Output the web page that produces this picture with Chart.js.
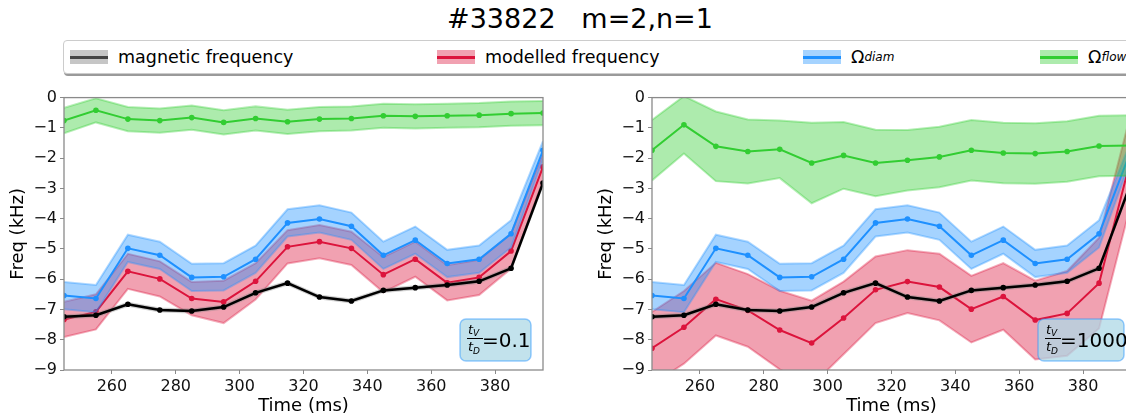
<!DOCTYPE html>
<html>
<head>
<meta charset="utf-8">
<script src="https://cdn.jsdelivr.net/npm/chart.js@4"></script>
<style>
html, body { margin: 0; padding: 0; background: #fff; overflow: hidden; width: 1126px; height: 418px; }
body { position: relative; font-family: "DejaVu Sans", sans-serif; color: #000; }
#title { position: absolute; left: 0; width: 1160px; top: 3px; text-align: center; font-size: 27px; white-space: pre; }
#legend { position: absolute; left: 63px; top: 40px; width: 1100px; height: 32px; border: 1px solid #ccc;
  border-radius: 4px; box-shadow: 1px 2px 0 #9a9a9a; background: #fff; }
.item { position: absolute; top: 0; height: 32px; display: flex; align-items: center; font-size: 17.5px; white-space: nowrap; }
.icon { position: relative; width: 38px; height: 14px; margin-right: 10px; }
.icon .band { position: absolute; left: 0; top: 0; width: 100%; height: 100%; }
.icon .line { position: absolute; left: 0; top: 6px; width: 100%; height: 2.5px; }
.item sub { font-style: italic; font-size: 12px; vertical-align: -6px; line-height: 0; }
canvas { position: absolute; top: 85px; }
</style>
</head>
<body>
<div id="title">#33822   m=2,n=1</div>
<div id="legend"></div>
<canvas id="left" width="560" height="333" style="left:0px"></canvas>
<canvas id="right" width="560" height="333" style="left:588px"></canvas>
<script>
// --- Data ---
const times = [245, 255, 265, 275, 285, 295, 305, 315, 325, 335, 345, 355, 365, 375, 385, 395];
const xTicks = [260, 280, 300, 320, 340, 360, 380];
const yTicks = [0, -1, -2, -3, -4, -5, -6, -7, -8, -9];

const magnetic = [-7.24, -7.19, -6.83, -7.02, -7.05, -6.92, -6.45, -6.13, -6.59, -6.72, -6.37, -6.28, -6.19, -6.07, -5.64, -2.82];
const magneticErr = [0.05, 0.05, 0.05, 0.05, 0.05, 0.05, 0.05, 0.05, 0.05, 0.05, 0.05, 0.05, 0.05, 0.05, 0.05, 0.05];

const omegaDiam = [-6.54, -6.64, -4.98, -5.21, -5.94, -5.92, -5.34, -4.14, -4.01, -4.25, -5.21, -4.71, -5.48, -5.34, -4.50, -1.74];
const omegaDiamErr = [0.45, 0.45, 0.45, 0.45, 0.45, 0.45, 0.45, 0.45, 0.45, 0.45, 0.45, 0.45, 0.45, 0.45, 0.45, 0.3];

const modelledLeft = [-7.33, -7.08, -5.74, -5.99, -6.64, -6.75, -6.07, -4.93, -4.76, -4.98, -5.85, -5.34, -6.12, -5.94, -5.07, -2.29];
const modelledLeftErr = [0.58, 0.58, 0.58, 0.58, 0.55, 0.7, 0.6, 0.55, 0.55, 0.55, 0.58, 0.58, 0.58, 0.58, 0.58, 0.45];

const flowLeft = [-0.76, -0.42, -0.71, -0.76, -0.66, -0.82, -0.69, -0.80, -0.71, -0.69, -0.60, -0.62, -0.60, -0.58, -0.53, -0.51];
const flowLeftErr = [0.42, 0.4, 0.4, 0.4, 0.4, 0.4, 0.4, 0.4, 0.4, 0.4, 0.4, 0.4, 0.4, 0.4, 0.4, 0.4];

const modelledRight = [-8.28, -7.59, -6.66, -7.03, -7.68, -8.11, -7.28, -6.35, -6.08, -6.26, -6.99, -6.57, -7.35, -7.13, -6.13, -2.0];
const modelledRightErr = [1.2, 1.2, 1.2, 1.2, 1.3, 1.4, 1.2, 1.1, 1.04, 1.1, 1.1, 1.1, 1.3, 1.4, 1.5, 1.5];

const flowRight = [-1.74, -0.90, -1.61, -1.78, -1.71, -2.16, -1.91, -2.16, -2.07, -1.96, -1.74, -1.83, -1.85, -1.78, -1.60, -1.58];
const flowRightErr = [1.0, 0.95, 1.15, 1.06, 0.95, 1.33, 1.1, 1.1, 1.0, 1.0, 1.0, 1.0, 1.0, 1.0, 1.0, 1.0];

const seriesNames = ["magnetic frequency", "modelled frequency", "Ω|diam", "Ω|flow"];
const seriesColors = ["0,0,0", "220,20,60", "30,144,255", "50,205,50"];

// --- Legend (html) ---
const legend = document.getElementById("legend");
const legendLeft = [6, 373, 739, 976];
seriesNames.forEach((name, i) => {
  const item = document.createElement("div");
  item.className = "item";
  item.style.left = legendLeft[i] + "px";
  const band = i === 0 ? "rgba(128,128,128,0.45)" : `rgba(${seriesColors[i]},0.4)`;
  const line = i === 0 ? "#444" : `rgb(${seriesColors[i]})`;
  const [main, sub] = name.split("|");
  item.innerHTML = `<span class="icon"><span class="band" style="background:${band}"></span>` +
    `<span class="line" style="background:${line}"></span></span>${main}` + (sub ? `<sub>${sub}</sub>` : "");
  legend.appendChild(item);
});

// --- Chart helpers ---
Chart.defaults.font.family = '"DejaVu Sans", sans-serif';
Chart.defaults.color = "#111";

const pts = (vals, errs, sign) => vals.map((v, i) => ({ x: times[i], y: v + sign * errs[i] }));

function series(vals, errs, rgb, order, lineWidth, bandRgb) {
  const band = bandRgb || rgb;
  return [
    { data: pts(vals, errs, 1), borderColor: `rgba(${band},0.35)`, borderWidth: 2, backgroundColor: `rgba(${band},0.4)`,
      fill: "+1", pointRadius: 0, order: order + 0.5, clip: 0 },
    { data: pts(vals, errs, -1), borderColor: `rgba(${band},0.35)`, borderWidth: 2, fill: false,
      pointRadius: 0, order: order + 0.5, clip: 0 },
    { data: pts(vals, errs, 0), borderColor: `rgb(${rgb})`, backgroundColor: `rgb(${rgb})`, borderWidth: lineWidth,
      fill: false, pointRadius: 2.8, pointBorderWidth: 0, order: order, clip: 0 }
  ];
}

// box round the plot area
const frame = {
  id: "frame",
  afterDraw(chart) {
    const { ctx, chartArea: a } = chart;
    ctx.save();
    ctx.strokeStyle = "#8a8a8a";
    ctx.lineWidth = 1.3;
    ctx.strokeRect(a.left, a.top, a.right - a.left, a.bottom - a.top);
    ctx.restore();
  }
};

// tV/tD label box
const ratioBox = {
  id: "ratioBox",
  afterDatasetsDraw(chart, args, opts) {
    const { ctx, chartArea: a } = chart;
    const w = opts.width, h = 42;
    const x = a.right - opts.inset - w, y = a.bottom - 9 - h;
    ctx.save();
    ctx.beginPath();
    ctx.roundRect(x, y, w, h, 6);
    ctx.fillStyle = "rgba(173,216,230,0.75)";
    ctx.fill();
    ctx.strokeStyle = "rgba(30,144,255,0.45)";
    ctx.lineWidth = 1.5;
    ctx.stroke();
    ctx.fillStyle = "#000";
    const fx = x + 15, bar = y + 19;
    ctx.fillRect(fx - 8, bar, 16, 1);
    ctx.textAlign = "left";
    ctx.font = 'italic 13px "DejaVu Sans"';
    ctx.fillText("t", fx - 7, bar - 4);
    ctx.fillText("t", fx - 7, bar + 13);
    ctx.font = 'italic 9px "DejaVu Sans"';
    ctx.fillText("V", fx - 2, bar - 2);
    ctx.fillText("D", fx - 2, bar + 16);
    ctx.font = '20px "DejaVu Sans"';
    ctx.fillText("=" + opts.text, x + 22, y + 28);
    ctx.restore();
  }
};

function buildConfig(modelled, modelledErr, flow, flowErr, ratio, boxW, inset) {
  return {
    type: "line",
    data: {
      datasets: [
        ...series(magnetic, magneticErr, "0,0,0", 1, 2.5, "128,128,128"),
        ...series(modelled, modelledErr, "220,20,60", 4, 2),
        ...series(omegaDiam, omegaDiamErr, "30,144,255", 3, 2),
        ...series(flow, flowErr, "50,205,50", 2, 2)
      ]
    },
    options: {
      responsive: false,
      animation: false,
      events: [],
      elements: { line: { tension: 0 } },
      layout: { padding: { top: 10, right: 17, left: 0, bottom: 0 } },
      plugins: {
        legend: { display: false },
        tooltip: { enabled: false },
        ratioBox: { text: ratio, width: boxW, inset: inset }
      },
      scales: {
        x: {
          type: "linear", min: 245, max: 395,
          afterFit: s => { s.height = 48; },
          afterBuildTicks: s => { s.ticks = xTicks.map(v => ({ value: v })); },
          ticks: { font: { size: 16 }, padding: 3, maxRotation: 0 },
          grid: { drawOnChartArea: false, tickLength: 4, color: "#8a8a8a" },
          border: { display: false },
          title: { display: true, text: "Time (ms)", font: { size: 18 }, padding: { top: 0, bottom: 1 }, color: "#000" }
        },
        y: {
          min: -9, max: 0,
          afterFit: s => { s.width = 64; },
          afterBuildTicks: s => { s.ticks = yTicks.map(v => ({ value: v })); },
          ticks: { font: { size: 16 }, padding: 3, callback: v => String(v).replace("-", "\u2212") },
          grid: { drawOnChartArea: false, tickLength: 4, color: "#8a8a8a" },
          border: { display: false },
          title: { display: true, text: "Freq (kHz)", font: { size: 18 }, padding: { top: 8, bottom: 4 }, color: "#000" }
        }
      }
    },
    plugins: [frame, ratioBox]
  };
}

new Chart(document.getElementById("left"), buildConfig(modelledLeft, modelledLeftErr, flowLeft, flowLeftErr, "0.1", 71, 12));
new Chart(document.getElementById("right"), buildConfig(modelledRight, modelledRightErr, flowRight, flowRightErr, "1000", 86, 7));
</script>
</body>
</html>
